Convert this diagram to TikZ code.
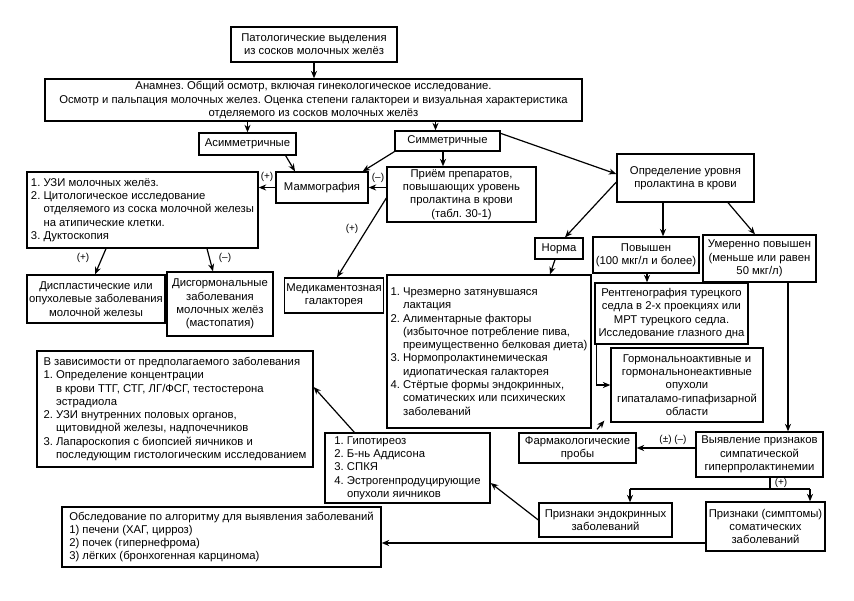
\documentclass[tikz,border=0pt]{standalone}
\usepackage{fontspec}
\setmainfont{Liberation Sans}
\usetikzlibrary{arrows.meta,calc}
\newcommand\fs{\fontsize{11.3}{13.3}\selectfont}
\newcommand\fsl{\fontsize{10}{12}\selectfont}
\newcommand\ind[1]{\phantom{#1}}
\frenchspacing
\begin{document}
\begin{tikzpicture}[x=1pt,y=-1pt,
  box/.style={draw, line width=1.3pt, inner sep=2pt, align=center, font=\fs},
  lbox/.style={box, align=left},
  arr/.style={line width=1.2pt, -{Stealth[length=7.5pt,width=6pt]}},
  ln/.style={line width=1.2pt},
  lbl/.style={font=\fsl, inner sep=1pt}]
\useasboundingbox (0,0) rectangle (854,600);

% boxes
\node[box, minimum width=166pt, minimum height=35pt] (top) at (314,44.5) {Патологические выделения\\из сосков молочных желёз};
\node[box, minimum width=537pt, minimum height=42pt] (anam) at (313.5,100) {Анамнез. Общий осмотр, включая гинекологическое исследование.\\Осмотр и пальпация молочных желез. Оценка степени галактореи и визуальная характеристика\\отделяемого из сосков молочных желёз};
\node[box, minimum width=97pt, minimum height=22pt] (asym) at (247.5,144) {Асимметричные};
\node[box, minimum width=105pt, minimum height=20pt] (sym) at (447.5,141) {Симметричные};
\node[box, minimum width=92pt, minimum height=31pt] (mammo) at (322,187.5) {Маммография};
\node[box, minimum width=149pt, minimum height=55pt] (priem) at (461.5,194.5) {Приём препаратов,\\повышающих уровень\\пролактина в крови\\(табл. 30-1)};
\node[box, minimum width=96pt, minimum height=35pt] (medik) at (334,295.5) {Медикаментозная\\галакторея};
\node[lbox, minimum width=231pt, minimum height=76pt] (uzi) at (142.5,210) {1. УЗИ молочных желёз.\\2. Цитологическое исследование\\\ind{2. }отделяемого из соска молочной железы\\\ind{2. }на атипические клетки.\\3. Дуктоскопия};
\node[box, minimum width=136pt, minimum height=48pt] (displ) at (96,299) {Диспластические или\\опухолевые заболевания\\молочной железы};
\node[box, minimum width=106pt, minimum height=64pt] (disg) at (220,304) {Дисгормональные\\заболевания\\молочных желёз\\(мастопатия)};
\node[box, minimum width=137pt, minimum height=48pt] (opred) at (685.5,178) {Определение уровня\\пролактина в крови};
\node[box, minimum width=48pt, minimum height=21pt] (norma) at (559,248.5) {Норма};
\node[box, minimum width=106pt, minimum height=36pt] (povy) at (646,255) {Повышен\\(100 мкг/л и более)};
\node[box, minimum width=113pt, minimum height=47pt] (umer) at (759.5,258.5) {Умеренно повышен\\(меньше или равен\\50 мкг/л)};
\node[box, minimum width=153pt, minimum height=61pt] (rentg) at (671.5,313.5) {Рентгенография турецкого\\седла в 2-х проекциях или\\МРТ турецкого седла.\\Исследование глазного дна};
\node[lbox, minimum width=204pt, minimum height=153pt] (nlist) at (489,351.5) {1. Чрезмерно затянувшаяся\\\ind{1. }лактация\\2. Алиментарные факторы\\\ind{2. }(избыточное потребление пива,\\\ind{2. }преимущественно белковая диета)\\3. Нормопролактинемическая\\\ind{3. }идиопатическая галакторея\\4. Стёртые формы эндокринных,\\\ind{4. }соматических или психических\\\ind{4. }заболеваний};
\node[box, minimum width=152pt, minimum height=74pt] (gorm) at (687,385) {Гормональноактивные и\\гормональнонеактивные\\опухоли\\гипаталамо-гипафизарной\\области};
\node[box, minimum width=117pt, minimum height=30pt] (farm) at (577.5,448) {Фармакологические\\пробы};
\node[box, minimum width=127pt, minimum height=45pt] (vyy) at (759.5,454.5) {Выявление признаков\\симпатической\\гиперпролактинемии};
\node[box, minimum width=133pt, minimum height=34pt] (pendo) at (605.5,520) {Признаки эндокринных\\заболеваний};
\node[box, minimum width=119pt, minimum height=49pt] (psom) at (765.5,526.5) {Признаки (симптомы)\\соматических\\заболеваний};
\node[lbox, minimum width=165pt, minimum height=70pt] (gipo) at (407.5,468) {1. Гипотиреоз\\2. Б-нь Аддисона\\3. СПКЯ\\4. Эстрогенпродуцирующие\\\ind{4. }опухоли яичников};
\node[lbox, minimum width=276pt, minimum height=116pt] (vzav) at (175,409) {В зависимости от предполагаемого заболевания\\1. Определение концентрации\\\ind{1. }в крови ТТГ, СТГ, ЛГ/ФСГ, тестостерона\\\ind{1. }эстрадиола\\2. УЗИ внутренних половых органов,\\\ind{2. }щитовидной железы, надпочечников\\3. Лапароскопия с биопсией яичников и\\\ind{3. }последующим гистологическим исследованием};
\node[lbox, minimum width=319pt, minimum height=60pt] (obsl) at (221.5,537) {Обследование по алгоритму для выявления заболеваний\\1) печени (ХАГ, цирроз)\\2) почек (гипернефрома)\\3) лёгких (бронхогенная карцинома)};

% connectors
\draw[arr] (top.south) -- (top.south |- anam.north);
\draw[arr] (anam.south -| asym.north) -- (asym.north);
\draw[arr] ([xshift=-12pt]sym.north |- anam.south) -- ([xshift=-12pt]sym.north);
\draw[arr] ([xshift=-11pt]asym.south east) -- ([xshift=-27pt]mammo.north);
\draw[arr] (sym.south west) -- ([xshift=-6pt]mammo.north east);
\draw[arr] ([xshift=-4.5pt]sym.south) -- ([xshift=-4.5pt]sym.south |- priem.north);
\draw[arr] ([yshift=-3pt]sym.north east) -- ([yshift=4pt]opred.west);
\draw[arr] (priem.west |- mammo.east) -- (mammo.east);
\node[lbl] (l1) at (378,178) {(–)};
\draw[arr] ([yshift=-3.5pt]priem.west) -- ([xshift=3pt]medik.north);
\node[lbl] (l2) at (352,229) {(+)};
\draw[arr] (mammo.west) -- (mammo.west -| uzi.east);
\node[lbl] (l3) at (267,177) {(+)};
\draw[arr] ([xshift=-36.5pt]uzi.south) -- ([xshift=-1pt]displ.north);
\node[lbl] (l4) at (83,258) {(+)};
\draw[arr] ([xshift=64.5pt]uzi.south) -- ([xshift=-7pt]disg.north);
\node[lbl] (l5) at (225,258) {(–)};
\draw[arr] ([yshift=-4pt]opred.west) -- ([xshift=6pt]norma.north);
\draw[arr] ([xshift=17pt]povy.north |- opred.south) -- ([xshift=17pt]povy.north);
\draw[arr] ([xshift=42.5pt]opred.south) -- ([xshift=-4.5pt]umer.north);
\draw[arr] ([xshift=-4pt]norma.south) -- ([xshift=61pt]nlist.north);
\draw[arr] ([xshift=1pt]povy.south) -- ([xshift=1pt]povy.south |- rentg.north);
\draw[arr] ([xshift=2pt]rentg.south west) |- (gorm.west);
\draw[arr] ([xshift=19.5pt,yshift=3pt]farm.north) -- ([xshift=-6pt,yshift=2pt]gorm.south west);
\draw[arr] ([xshift=28.5pt]umer.south) -- ([xshift=28.5pt]umer.south |- vyy.north);
\draw[arr] (vyy.west |- farm.east) -- (farm.east);
\node[lbl] (l6) at (673,440) {(±) (–)};
\coordinate (split) at (770,489);
\draw[ln] ([xshift=10.5pt]vyy.south) -- (split);
\draw[ln] ([xshift=24.5pt]pendo.north |- split) -- ([xshift=44.5pt]psom.north |- split);
\draw[arr] ([xshift=24.5pt]pendo.north |- split) -- ([xshift=24.5pt]pendo.north);
\draw[arr] ([xshift=44.5pt]psom.north |- split) -- ([xshift=44.5pt]psom.north);
\node[lbl] (l7) at (781,483) {(+)};
\draw[arr] (pendo.west) -- ([yshift=-15pt]gipo.east);
\draw[arr] ([xshift=30pt]gipo.north west) -- ([yshift=22pt]vzav.east);
\draw[arr] ([yshift=-16.5pt]psom.west) -- ([yshift=-16.5pt]psom.west -| obsl.east);
\end{tikzpicture}
\end{document}
